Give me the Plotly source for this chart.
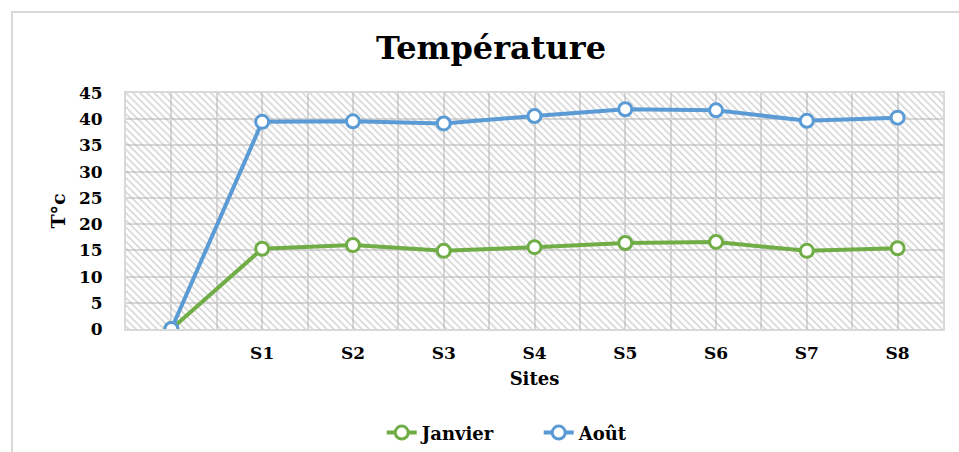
import plotly.graph_objects as go

# Temperature per site, January vs August
sites = ["", "S1", "S2", "S3", "S4", "S5", "S6", "S7", "S8"]
janvier = [0, 15.3, 16.0, 14.9, 15.6, 16.4, 16.6, 14.9, 15.4]
aout = [0, 39.5, 39.6, 39.2, 40.6, 41.9, 41.7, 39.7, 40.3]

y_ticks = list(range(0, 50, 5))
y_range = [0, 45]

GREEN = "#70AD47"
BLUE = "#5B9BD5"
GRID = "#d9d9d9"
SERIF = "DejaVu Serif"

xpos = list(range(len(sites)))
x_range = [-0.5, len(sites) - 0.5]

# ticks every half step so gridlines fall on centres and band edges
half_vals = [x_range[0] + 0.5 * k for k in range(2 * len(sites) + 1)]
half_text = [sites[int(v)] if float(v).is_integer() else "" for v in half_vals]

fig = go.Figure()

# hatched plot-area background
fig.add_trace(go.Scatter(
    x=[x_range[0], x_range[1], x_range[1], x_range[0], x_range[0]],
    y=[y_range[0], y_range[0], y_range[1], y_range[1], y_range[0]],
    mode="lines", line=dict(width=0), fill="toself",
    fillcolor="rgba(0,0,0,0)",
    fillpattern=dict(shape="\\", fgcolor="#a8a8a8", size=5, solidity=0.3),
    hoverinfo="skip", showlegend=False,
))

for name, vals, col in [("Janvier", janvier, GREEN), ("Août", aout, BLUE)]:
    fig.add_trace(go.Scatter(
        x=xpos, y=vals, name=name, mode="lines+markers",
        line=dict(color=col, width=4),
        marker=dict(symbol="circle", size=13, color="white",
                    line=dict(color=col, width=3)),
    ))

fig.update_layout(
    width=959, height=452,
    margin=dict(l=126, r=16, t=93, b=123, autoexpand=False),
    paper_bgcolor="white", plot_bgcolor="white",
    font=dict(family=SERIF, color="black", size=17, weight="bold"),
    title=dict(text="Température", x=0.512, xanchor="center",
               y=0.895, yanchor="middle",
               font=dict(family=SERIF, size=32, weight="bold", color="black")),
    showlegend=True,
    legend=dict(orientation="h", x=0.313, xanchor="left", y=-0.44,
                yanchor="middle", font=dict(family=SERIF, size=18, weight="bold"),
                entrywidth=112, entrywidthmode="pixels",
                bgcolor="rgba(0,0,0,0)"),
    xaxis=dict(
        range=x_range, tickmode="array", tickvals=half_vals, ticktext=half_text,
        showgrid=True, gridcolor=GRID, gridwidth=1.5, zeroline=False,
        showline=True, linecolor=GRID, linewidth=2, mirror=True,
        ticks="", ticklabelstandoff=8,
        tickfont=dict(family=SERIF, size=17, weight="bold"),
        title=dict(text="Sites", standoff=10,
                   font=dict(family=SERIF, size=18, weight="bold")),
    ),
    yaxis=dict(
        range=y_range, tickmode="array", tickvals=y_ticks,
        showgrid=True, gridcolor=GRID, gridwidth=1.5, zeroline=False,
        showline=True, linecolor=GRID, linewidth=2, mirror=True,
        ticks="", ticklabelstandoff=18,
        tickfont=dict(family=SERIF, size=17, weight="bold"),
        title=dict(text="T°c", standoff=8,
                   font=dict(family=SERIF, size=19, weight="bold")),
    ),
    shapes=[dict(type="rect", xref="paper", yref="paper",
                 x0=-0.1395, x1=1.2, y0=-0.8, y1=1.343,
                 line=dict(color=GRID, width=2), fillcolor="rgba(0,0,0,0)",
                 layer="below")],
)

fig.write_html("out.html")
